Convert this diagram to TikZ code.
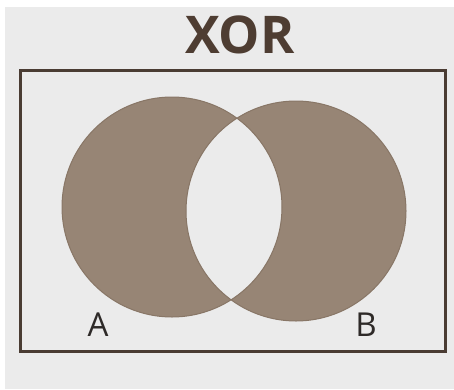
\documentclass[tikz,border=0pt]{standalone}
\usepackage{fontspec}
\setmainfont{Open Sans}
\definecolor{bgc}{HTML}{EBEBEB}
\definecolor{setfill}{HTML}{978575}
\definecolor{setedge}{HTML}{887666}
\definecolor{frame}{HTML}{4A3C33}
\definecolor{titlec}{HTML}{4E3D32}
\definecolor{labc}{HTML}{2E2A28}
\tikzset{
  setlabel/.style={text=labc, font=\fontsize{33}{33}\selectfont, inner sep=0pt},
}
\begin{document}
\begin{tikzpicture}[x=1pt,y=-1pt]
\useasboundingbox (0,0) rectangle (454,389);
\fill[white] (0,0) rectangle (454,389);
\fill[bgc] (5,7) rectangle (454,389);
\coordinate (ca) at (172,207);
\coordinate (cb) at (296,211);
\fill[setfill, even odd rule] (ca) circle[radius=110] (cb) circle[radius=110];
\draw[setedge, line width=1pt] (ca) circle[radius=110];
\draw[setedge, line width=1pt] (cb) circle[radius=110];
\draw[frame, line width=3pt] (20.5,70) rectangle (445.5,351);
\node[text=titlec, font=\fontsize{52}{52}\selectfont\bfseries, inner sep=0pt, anchor=base] (title) at (240,53) {XOR};
\node[setlabel, anchor=base] (la) at (98,336) {A};
\node[setlabel, anchor=base] (lb) at (366,336) {B};
\end{tikzpicture}
\end{document}
